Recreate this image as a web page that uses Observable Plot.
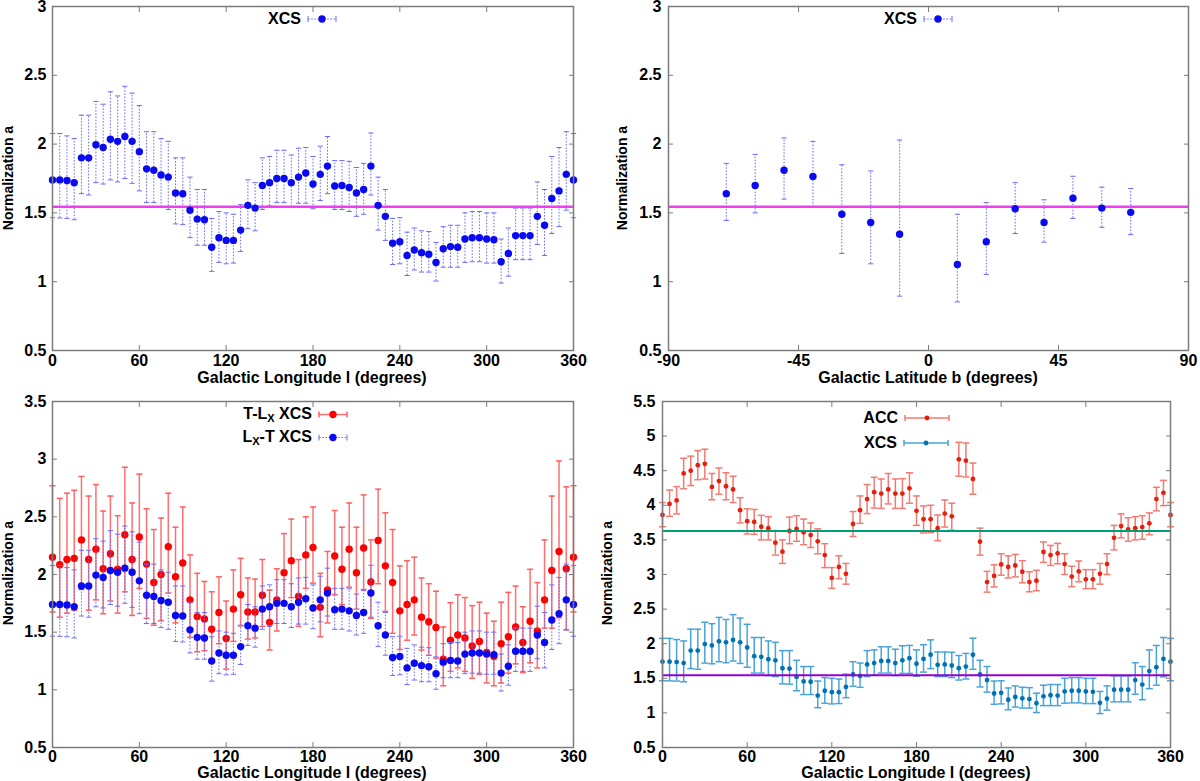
<!DOCTYPE html>
<html>
<head>
<meta charset="utf-8">
<script src="https://cdn.jsdelivr.net/npm/d3@7"></script>
<script src="https://cdn.jsdelivr.net/npm/@observablehq/plot@0.6"></script>
<style>
  body { margin: 0; background: #fff; }
  #fig { position: relative; width: 1200px; height: 781px; font-family: "Liberation Sans", Arial, Helvetica, sans-serif; font-weight: bold; color: #000; }
  .ttl { position: absolute; font-size: 16px; white-space: nowrap; transform: translate(-50%, -50%); }
  .ytl { position: absolute; font-size: 14px; white-space: nowrap; transform: translate(-50%, -50%) rotate(-90deg); }
  .leg { position: absolute; font-size: 16px; white-space: nowrap; display: flex; align-items: center; transform: translateY(-50%); }
  .leg sub { font-size: 11px; vertical-align: -3px; }
  .leg svg { margin-left: 6px; }
</style>
</head>
<body>
<div id="fig"></div>
<script>
// galactic longitude bins (degrees)
const lon = [0,5,10,15,20,25,30,35,40,45,50,55,60,65,70,75,80,85,90,95,100,105,110,115,120,125,130,135,140,145,150,155,160,165,170,175,180,
  185,190,195,200,205,210,215,220,225,230,235,240,245,250,255,260,265,270,275,280,285,290,295,300,305,310,315,320,325,330,335,340,345,350,355,360];

// XCS (Lx-T) normalization vs longitude
const xcsA = [1.74,1.74,1.735,1.72,1.90,1.90,1.995,1.975,2.035,2.02,2.055,2.02,1.945,1.82,1.81,1.775,1.76,1.645,1.64,1.52,1.455,1.45,1.25,1.32,1.30,1.30,1.375,1.555,1.535,1.70,1.72,1.75,1.75,1.72,1.76,1.79,1.71,
  1.78,1.84,1.695,1.70,1.685,1.645,1.67,1.84,1.555,1.475,1.28,1.29,1.19,1.23,1.21,1.20,1.14,1.24,1.255,1.25,1.31,1.32,1.32,1.31,1.305,1.145,1.205,1.335,1.335,1.335,1.475,1.41,1.605,1.66,1.78,1.74];
const xcsHi = [2.077,2.077,2.06,2.04,2.21,2.21,2.31,2.29,2.38,2.35,2.42,2.37,2.28,2.09,2.09,2.04,2.02,1.90,1.90,1.76,1.67,1.67,1.46,1.51,1.50,1.49,1.56,1.74,1.72,1.90,1.91,1.955,1.955,1.92,1.97,1.975,1.91,
  1.985,2.055,1.88,1.88,1.875,1.83,1.86,2.08,1.76,1.67,1.46,1.465,1.36,1.39,1.37,1.365,1.285,1.40,1.41,1.41,1.50,1.51,1.51,1.50,1.50,1.31,1.39,1.535,1.535,1.535,1.725,1.67,1.91,1.975,2.09,2.077];
const xcsLo = [1.465,1.463,1.46,1.45,1.64,1.63,1.72,1.71,1.74,1.725,1.75,1.715,1.66,1.575,1.575,1.54,1.525,1.42,1.415,1.32,1.265,1.265,1.075,1.14,1.13,1.135,1.22,1.385,1.37,1.525,1.55,1.575,1.575,1.54,1.57,1.57,1.53,
  1.59,1.64,1.525,1.525,1.51,1.475,1.49,1.63,1.375,1.30,1.125,1.13,1.045,1.085,1.07,1.07,1.005,1.105,1.105,1.105,1.14,1.145,1.145,1.135,1.135,0.99,1.04,1.16,1.16,1.16,1.27,1.19,1.35,1.40,1.52,1.465];

// XCS (T-Lx) normalization vs longitude
const tlxA = [2.15,2.085,2.13,2.14,2.30,2.13,2.22,2.05,2.18,2.045,2.345,2.13,2.325,2.09,1.93,2.00,2.24,1.98,2.10,1.78,1.635,1.615,1.525,1.67,1.445,1.70,1.825,1.675,1.675,1.82,1.585,1.78,2.016,2.12,1.81,2.17,2.235,
  1.715,1.865,2.16,2.045,2.22,2.015,2.23,1.935,2.295,2.075,1.93,1.685,1.74,1.78,1.63,1.59,1.54,1.265,1.43,1.475,1.45,1.38,1.42,1.325,1.29,1.40,1.46,1.545,1.41,1.595,1.51,1.78,2.035,2.20,2.05,2.15];
const tlxHi = [2.77,2.66,2.705,2.73,2.85,2.68,2.78,2.55,2.68,2.51,2.93,2.62,2.87,2.57,2.39,2.49,2.705,2.41,2.585,2.17,2.01,1.94,1.85,1.98,1.77,2.04,2.14,1.97,1.96,2.13,1.865,2.05,2.355,2.48,2.13,2.50,2.585,
  2.01,2.20,2.555,2.41,2.62,2.41,2.69,2.30,2.74,2.535,2.39,2.075,2.12,2.15,1.97,1.92,1.855,1.545,1.755,1.825,1.80,1.73,1.76,1.665,1.595,1.76,1.845,1.90,1.72,2.045,1.93,2.30,2.68,2.985,2.76,2.77];
const tlxLo = [1.675,1.63,1.665,1.69,1.87,1.69,1.78,1.66,1.77,1.665,1.85,1.645,1.88,1.62,1.56,1.60,1.84,1.58,1.63,1.455,1.33,1.34,1.255,1.40,1.18,1.42,1.555,1.44,1.45,1.55,1.345,1.51,1.74,1.80,1.55,1.88,1.925,
  1.46,1.58,1.825,1.74,1.89,1.70,1.87,1.62,1.92,1.68,1.49,1.35,1.43,1.475,1.345,1.30,1.275,1.035,1.16,1.19,1.16,1.10,1.135,1.06,1.035,1.06,1.145,1.225,1.15,1.235,1.19,1.535,1.535,1.625,1.52,1.675];

// ACC normalization vs longitude
const accA = [3.86,4.02,4.07,4.46,4.50,4.58,4.60,4.265,4.35,4.275,4.23,3.93,3.77,3.76,3.69,3.67,3.46,3.33,3.63,3.66,3.61,3.57,3.48,3.28,2.95,3.11,3.01,3.73,3.93,4.09,4.19,4.17,4.23,4.17,4.17,4.245,3.92,
  3.80,3.80,3.67,3.88,3.84,4.665,4.645,4.38,3.475,2.89,2.98,3.145,3.11,3.13,3.04,2.89,2.91,3.325,3.28,3.305,3.15,2.97,3.045,2.93,2.93,3.01,3.15,3.53,3.70,3.65,3.67,3.685,3.74,4.09,4.18,3.86];
const accHi = [4.04,4.22,4.27,4.68,4.71,4.79,4.81,4.46,4.54,4.47,4.42,4.11,3.95,3.94,3.855,3.835,3.635,3.50,3.83,3.85,3.80,3.745,3.66,3.445,3.10,3.27,3.16,3.91,4.135,4.30,4.405,4.38,4.46,4.38,4.385,4.47,4.135,
  3.99,4.00,3.86,4.077,4.03,4.91,4.90,4.61,3.67,3.045,3.14,3.30,3.27,3.29,3.20,3.04,3.06,3.47,3.42,3.45,3.30,3.12,3.195,3.07,3.07,3.16,3.30,3.71,3.875,3.82,3.835,3.85,3.89,4.26,4.36,4.04];
const accLo = [3.69,3.84,3.875,4.24,4.285,4.37,4.38,4.08,4.16,4.08,4.04,3.745,3.585,3.58,3.50,3.50,3.28,3.16,3.445,3.48,3.43,3.39,3.30,3.10,2.80,2.94,2.86,3.55,3.74,3.88,3.96,3.955,4.02,3.955,3.955,4.03,3.71,
  3.60,3.605,3.49,3.686,3.64,4.42,4.41,4.16,3.28,2.745,2.82,2.99,2.95,2.965,2.88,2.75,2.765,3.175,3.13,3.155,3.00,2.825,2.895,2.795,2.795,2.86,3.00,3.355,3.53,3.48,3.50,3.51,3.575,3.92,3.995,3.69];

// XCS normalization vs galactic latitude
const lat = [-70,-60,-50,-40,-30,-20,-10,10,20,30,40,50,60,70];
const latA = [1.64,1.70,1.81,1.765,1.49,1.43,1.345,1.125,1.29,1.53,1.43,1.607,1.535,1.504];
const latHi = [1.86,1.925,2.045,2.02,1.85,1.805,2.03,1.49,1.575,1.72,1.595,1.766,1.687,1.677];
const latLo = [1.445,1.50,1.60,1.54,1.205,1.13,0.895,0.853,1.053,1.35,1.287,1.46,1.395,1.342];

// all-sky best fits
const xcsAll = 1.545;
const accAll = 3.63;

const lonTicks = [0,60,120,180,240,300,360];
const latTicks = [-90,-45,0,45,90];
const yTicks3 = [0.5,1,1.5,2,2.5,3];
const yTicks35 = [0.5,1,1.5,2,2.5,3,3.5];
const yTicks55 = [0.5,1,1.5,2,2.5,3,3.5,4,4.5,5,5.5];

const rows = (xs, a, hi, lo) => xs.map((x, i) => ({x, a: a[i], hi: hi[i], lo: lo[i]}));

const FONT = '"Liberation Sans", Arial, Helvetica, sans-serif';
const GREY = "#7c7c7c";
const fig = document.getElementById("fig");

// horizontal error-bar cap
const cap = {draw(ctx, size) { const w = Math.sqrt(size); ctx.moveTo(-w, 0); ctx.lineTo(w, 0); }};
const capR = half => half / Math.sqrt(Math.PI);

function errSeries(data, s) {
  return [
    Plot.ruleX(data, {x: "x", y1: "lo", y2: "hi", stroke: s.bar, strokeWidth: s.bw, strokeDasharray: s.dash}),
    Plot.dot(data, {x: "x", y: "hi", symbol: cap, r: capR(s.cap), fill: "none", stroke: s.capc || s.bar, strokeWidth: s.bw}),
    Plot.dot(data, {x: "x", y: "lo", symbol: cap, r: capR(s.cap), fill: "none", stroke: s.capc || s.bar, strokeWidth: s.bw})
  ];
}
const points = (data, s) => Plot.dot(data, {x: "x", y: "a", r: s.r, fill: s.dot, stroke: null});

const plain = d => `${d}`;

function axes(xt, yt, o) {
  return [
    Plot.frame({stroke: GREY, strokeWidth: 1.5}),
    Plot.axisX({anchor: "bottom", ticks: xt, tickSize: -5, tickFormat: () => "", stroke: GREY, label: null}),
    Plot.axisX({anchor: "top", ticks: xt, tickSize: -5, tickFormat: () => "", stroke: GREY, label: null}),
    Plot.axisY({anchor: "left", ticks: yt, tickSize: -5, tickFormat: () => "", stroke: GREY, label: null}),
    Plot.axisY({anchor: "right", ticks: yt, tickSize: -5, tickFormat: () => "", stroke: GREY, label: null}),
    Plot.axisX({anchor: "bottom", ticks: xt, tickSize: 0, tickPadding: o.xpad, tickFormat: plain, label: null,
      fontSize: 16, fontWeight: "bold", fill: "#000"}),
    Plot.axisY({anchor: "left", ticks: yt, tickSize: 0, tickPadding: o.ypad, tickFormat: plain, label: null,
      fontSize: 16, fontWeight: "bold", fill: "#000"})
  ];
}

function panel(o) {
  const svg = Plot.plot({
    width: o.w, height: o.h,
    marginLeft: o.ml, marginRight: o.mr, marginTop: o.mt, marginBottom: o.mb,
    x: {domain: o.xd},
    y: {domain: o.yd},
    marks: [...o.marks, ...axes(o.xt, o.yt, o)]
  });
  svg.style.position = "absolute";
  svg.style.left = o.left + "px";
  svg.style.top = o.top + "px";
  svg.style.overflow = "visible";
  svg.style.background = "none";
  svg.style.fontFamily = FONT;
  svg.style.color = "#000";
  fig.appendChild(svg);
}

function html(cls, left, top, content) {
  const d = document.createElement("div");
  d.className = cls;
  d.style.left = left + "px";
  d.style.top = top + "px";
  d.innerHTML = content;
  fig.appendChild(d);
  return d;
}

// small legend sample: bar with end caps and a dot
function sample(w, s) {
  const h = 12;
  return `<svg width="${w}" height="${h}" style="overflow:visible">
    <line x1="1" x2="${w - 1}" y1="${h / 2}" y2="${h / 2}" stroke="${s.bar}" stroke-width="${s.bw}" ${s.dash ? `stroke-dasharray="${s.dash}"` : ""}/>
    <line x1="1" x2="1" y1="${h / 2 - 3}" y2="${h / 2 + 3}" stroke="${s.capc || s.bar}" stroke-width="${s.bw}"/>
    <line x1="${w - 1}" x2="${w - 1}" y1="${h / 2 - 3}" y2="${h / 2 + 3}" stroke="${s.capc || s.bar}" stroke-width="${s.bw}"/>
    <circle cx="${w / 2}" cy="${h / 2}" r="${s.r}" fill="${s.dot}"/>
  </svg>`;
}

function legend(rightX, y, label, w, s) {
  const d = html("leg", 0, y, `<span>${label}</span>${sample(w, s)}`);
  const span = d.querySelector("span");
  d.style.left = (rightX - span.getBoundingClientRect().width) + "px";
}

const sBlueDot = {bar: "#6b6bff", bw: 1, dash: "1.6,1.6", cap: 2.6, dot: "#0a0af0", r: 3.7};
const sRed = {bar: "#ff7070", bw: 1.5, cap: 3, capc: "#ff6060", dot: "#ff0000", r: 3.7};
const sAcc = {bar: "#f27b73", bw: 1.5, cap: 3.5, dot: "#e51e10", r: 2.4};
const sXcs = {bar: "#4aa3d8", bw: 1.5, cap: 3.5, dot: "#0072b2", r: 2.4};

const dXcs = rows(lon, xcsA, xcsHi, xcsLo);
const dTlx = rows(lon, tlxA, tlxHi, tlxLo);
const dAcc = rows(lon, accA, accHi, accLo);
const dLat = rows(lat, latA, latHi, latLo);

// top left: XCS vs longitude
panel({left: 0, top: 0, w: 600, h: 390, ml: 52, mr: 27, mt: 6, mb: 40, xpad: 4, ypad: 6,
  xd: [0, 360], yd: [0.5, 3], xt: lonTicks, yt: yTicks3,
  marks: [...errSeries(dXcs, sBlueDot), Plot.ruleY([xcsAll], {stroke: "#f03ef0", strokeWidth: 2.5}), points(dXcs, sBlueDot)]});

// top right: XCS vs latitude
panel({left: 600, top: 0, w: 600, h: 390, ml: 68, mr: 12, mt: 6, mb: 40, xpad: 4, ypad: 7,
  xd: [-90, 90], yd: [0.5, 3], xt: latTicks, yt: yTicks3,
  marks: [...errSeries(dLat, sBlueDot), Plot.ruleY([xcsAll], {stroke: "#f03ef0", strokeWidth: 2.5}), points(dLat, sBlueDot)]});

// bottom left: T-Lx and Lx-T vs longitude
panel({left: 0, top: 390, w: 600, h: 391, ml: 52, mr: 27, mt: 11, mb: 34, xpad: 3, ypad: 6,
  xd: [0, 360], yd: [0.5, 3.5], xt: lonTicks, yt: yTicks35,
  marks: [...errSeries(dTlx, sRed), points(dTlx, sRed), ...errSeries(dXcs, sBlueDot), points(dXcs, sBlueDot)]});

// bottom right: ACC and XCS vs longitude
panel({left: 600, top: 390, w: 600, h: 391, ml: 62, mr: 30, mt: 11, mb: 34, xpad: 3, ypad: 7,
  xd: [0, 360], yd: [0.5, 5.5], xt: lonTicks, yt: yTicks55,
  marks: [...errSeries(dAcc, sAcc), points(dAcc, sAcc), ...errSeries(dXcs, sXcs), points(dXcs, sXcs),
    Plot.ruleY([accAll], {stroke: "#009e73", strokeWidth: 2}), Plot.ruleY([xcsAll], {stroke: "#9400d3", strokeWidth: 2})]});

// axis titles
html("ttl", 312, 378, "Galactic Longitude l (degrees)");
html("ttl", 928, 378, "Galactic Latitude b (degrees)");
html("ttl", 312, 773, "Galactic Longitude l (degrees)");
html("ttl", 916, 773, "Galactic Longitude l (degrees)");
html("ytl", 8, 178, "Normalization a");
html("ytl", 622, 178, "Normalization a");
html("ytl", 8, 573, "Normalization a");
html("ytl", 607, 573, "Normalization a");

// legends
legend(301, 19, "XCS", 30, sBlueDot);
legend(917, 19, "XCS", 30, sBlueDot);
legend(312, 414, "T-L<sub>X</sub> XCS", 30, sRed);
legend(312, 437, "L<sub>X</sub>-T XCS", 30, sBlueDot);
legend(898, 418, "ACC", 46, sAcc);
legend(897, 443, "XCS", 46, sXcs);
</script>
</body>
</html>
